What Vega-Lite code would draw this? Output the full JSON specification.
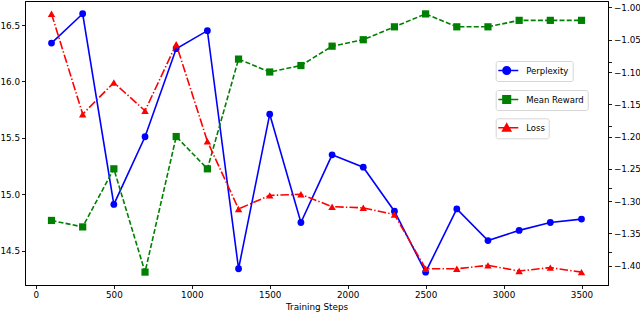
{
  "$schema": "https://vega.github.io/schema/vega-lite/v6.json",
  "width": 583,
  "height": 284,
  "autosize": "none",
  "padding": {"left": 25, "top": 1, "right": 32, "bottom": 27},
  "background": "white",
  "config": {
    "font": "DejaVu Sans",
    "view": {"stroke": "#000000", "strokeWidth": 1},
    "axis": {
      "grid": false,
      "domainColor": "#000000",
      "domainWidth": 1,
      "tickColor": "#000000",
      "tickSize": 3.5,
      "tickWidth": 0.9,
      "labelColor": "#000000",
      "labelFont": "DejaVu Sans",
      "labelFontSize": 8.8,
      "labelPadding": 2,
      "titleFont": "DejaVu Sans",
      "titleFontSize": 8.8,
      "titleFontWeight": "normal",
      "titleColor": "#000000"
    },
    "legend": {
      "orient": "none",
      "padding": 3.5,
      "strokeColor": "#d6d6d6",
      "fillColor": "#ffffff",
      "cornerRadius": 2,
      "labelFont": "DejaVu Sans",
      "labelFontSize": 8.5,
      "labelColor": "#000000",
      "labelOffset": 15,
      "symbolSize": 100
    }
  },
  "data": {
    "values": [
      {"step": 100, "perplexity": 16.34, "reward": -1.33, "loss": 16.60},
      {"step": 300, "perplexity": 16.60, "reward": -1.34, "loss": 15.71},
      {"step": 500, "perplexity": 14.91, "reward": -1.25, "loss": 15.99},
      {"step": 700, "perplexity": 15.51, "reward": -1.41, "loss": 15.74},
      {"step": 900, "perplexity": 16.29, "reward": -1.20, "loss": 16.33},
      {"step": 1100, "perplexity": 16.45, "reward": -1.25, "loss": 15.47},
      {"step": 1300, "perplexity": 14.34, "reward": -1.08, "loss": 14.87},
      {"step": 1500, "perplexity": 15.71, "reward": -1.10, "loss": 14.99},
      {"step": 1700, "perplexity": 14.75, "reward": -1.09, "loss": 15.00},
      {"step": 1900, "perplexity": 15.35, "reward": -1.06, "loss": 14.89},
      {"step": 2100, "perplexity": 15.24, "reward": -1.05, "loss": 14.88},
      {"step": 2300, "perplexity": 14.85, "reward": -1.03, "loss": 14.82},
      {"step": 2500, "perplexity": 14.31, "reward": -1.01, "loss": 14.34},
      {"step": 2700, "perplexity": 14.87, "reward": -1.03, "loss": 14.34},
      {"step": 2900, "perplexity": 14.59, "reward": -1.03, "loss": 14.37},
      {"step": 3100, "perplexity": 14.68, "reward": -1.02, "loss": 14.32},
      {"step": 3300, "perplexity": 14.75, "reward": -1.02, "loss": 14.35},
      {"step": 3500, "perplexity": 14.78, "reward": -1.02, "loss": 14.31}
    ]
  },
  "encoding": {
    "x": {
      "field": "step",
      "type": "quantitative",
      "scale": {"domain": [-70, 3670], "nice": false, "zero": false},
      "axis": {
        "title": "Training Steps",
        "values": [0, 500, 1000, 1500, 2000, 2500, 3000, 3500],
        "format": "d",
        "titlePadding": 3
      }
    }
  },
  "layer": [
    {
      "encoding": {
        "y": {
          "field": "perplexity",
          "type": "quantitative",
          "scale": {"domain": [14.196, 16.713], "nice": false, "zero": false},
          "axis": {
            "orient": "left",
            "title": null,
            "values": [14.5, 15.0, 15.5, 16.0, 16.5],
            "format": ".1f"
          }
        },
        "color": {
          "datum": "Perplexity",
          "type": "nominal",
          "scale": {"range": ["#0000ff"]},
          "legend": {
            "title": null,
            "legendX": 470.7,
            "legendY": 60,
            "encode": {
              "symbols": {
                "update": {
                  "shape": {"value": "M-1.38,0H2.62M-0.45,0A0.75,0.75,0,1,1,1.05,0A0.75,0.75,0,1,1,-0.45,0Z"},
                  "fill": {"value": "#0000ff"},
                  "stroke": {"value": "#0000ff"},
                  "strokeWidth": {"value": 1.6},
                  "opacity": {"value": 1},
                  "size": {"value": 100}
                }
              }
            }
          }
        }
      },
      "layer": [
        {"mark": {"type": "line", "strokeWidth": 1.6}},
        {"mark": {"type": "point", "shape": "circle", "filled": true, "size": 46, "opacity": 1}}
      ]
    },
    {
      "encoding": {
        "y": {
          "field": "reward",
          "type": "quantitative",
          "scale": {"domain": [-1.43, -0.99], "nice": false, "zero": false},
          "axis": {
            "orient": "right",
            "title": null,
            "values": [-1.4, -1.35, -1.3, -1.25, -1.2, -1.15, -1.1, -1.05, -1.0],
            "format": ".2f"
          }
        },
        "color": {
          "datum": "Mean Reward",
          "type": "nominal",
          "scale": {"range": ["#008000"]},
          "legend": {
            "title": null,
            "legendX": 470.7,
            "legendY": 89,
            "encode": {
              "symbols": {
                "update": {
                  "shape": {"value": "M-1.38,0H2.62M-0.45,-0.75H1.05V0.75H-0.45Z"},
                  "fill": {"value": "#008000"},
                  "stroke": {"value": "#008000"},
                  "strokeWidth": {"value": 1.6},
                  "opacity": {"value": 1},
                  "size": {"value": 100}
                }
              }
            }
          }
        }
      },
      "layer": [
        {"mark": {"type": "line", "strokeWidth": 1.6, "strokeDash": [5, 2.2]}},
        {"mark": {"type": "point", "shape": "square", "filled": true, "size": 52, "opacity": 1}}
      ]
    },
    {
      "encoding": {
        "y": {
          "field": "loss",
          "type": "quantitative",
          "scale": {"domain": [14.196, 16.713], "nice": false, "zero": false},
          "axis": {
            "orient": "right",
            "title": null,
            "labels": false,
            "domain": false,
            "values": [14.49, 15.055, 15.605, 16.175]
          }
        },
        "color": {
          "datum": "Loss",
          "type": "nominal",
          "scale": {"range": ["#ff0000"]},
          "legend": {
            "title": null,
            "legendX": 470.7,
            "legendY": 117.3,
            "encode": {
              "symbols": {
                "update": {
                  "shape": {"value": "M-1.38,0H2.62M0.3,-0.8L1.1,0.65H-0.5Z"},
                  "fill": {"value": "#ff0000"},
                  "stroke": {"value": "#ff0000"},
                  "strokeWidth": {"value": 1.6},
                  "opacity": {"value": 1},
                  "size": {"value": 100}
                }
              }
            }
          }
        }
      },
      "layer": [
        {"mark": {"type": "line", "strokeWidth": 1.6, "strokeDash": [8.5, 2.2, 1.4, 2.2]}},
        {"mark": {"type": "point", "shape": "triangle-up", "filled": true, "size": 55, "opacity": 1}}
      ]
    }
  ],
  "resolve": {
    "scale": {"y": "independent", "color": "independent"},
    "legend": {"color": "independent"}
  }
}
